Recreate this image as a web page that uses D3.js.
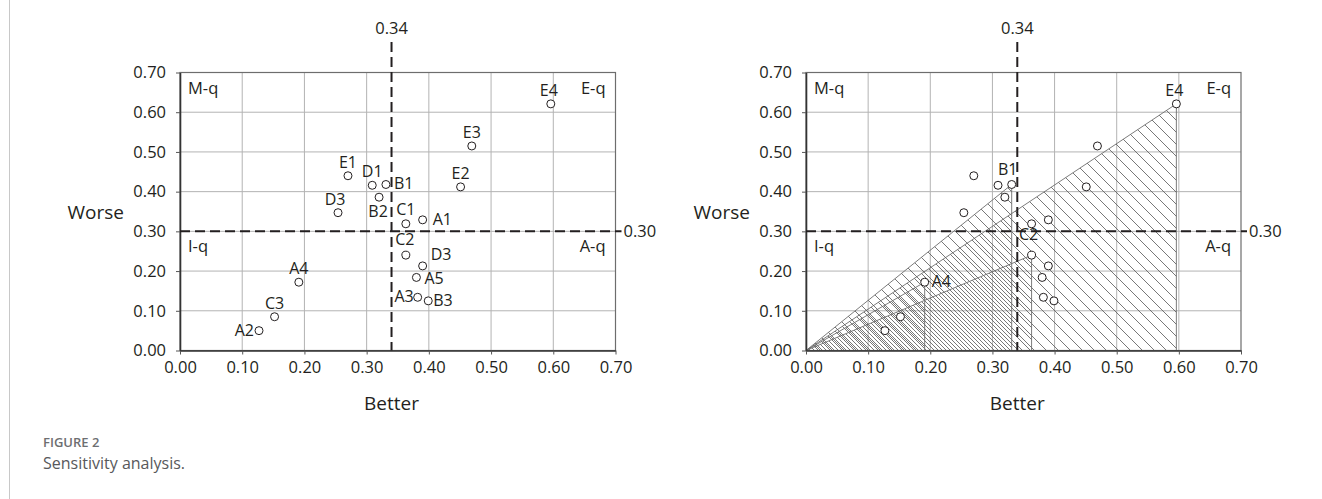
<!DOCTYPE html>
<html>
<head>
<meta charset="utf-8">
<script src="https://cdn.jsdelivr.net/npm/d3@7"></script>
<style>
  body { margin: 0; background: #fff; }
  svg text { font-family: "Open Sans", sans-serif; fill: #231f20; }
</style>
</head>
<body>
<svg id="chart" width="1322" height="499"></svg>
<script>
// data
const pointNames = ["E4", "E3", "E2", "E1", "D1", "B1", "B2", "D3", "C1", "A1", "C2", "D3", "A5", "A4", "A3", "B3", "C3", "A2"];
const betterValues = [0.596, 0.469, 0.451, 0.270, 0.309, 0.331, 0.320, 0.254, 0.363, 0.390, 0.363, 0.390, 0.380, 0.191, 0.382, 0.399, 0.152, 0.127];
const worseValues  = [0.621, 0.515, 0.412, 0.440, 0.416, 0.418, 0.386, 0.347, 0.319, 0.329, 0.240, 0.213, 0.184, 0.172, 0.134, 0.125, 0.085, 0.050];
// label placement per point: [dx, dy, anchor]
const labelPos = [
  [-2, -8, "middle"], [0, -8, "middle"], [0, -8, "middle"], [0, -8, "middle"], [0, -8, "middle"],
  [8, 5, "start"], [-1, 20, "middle"], [-3, -8, "middle"], [0, -9, "middle"], [10, 5, "start"],
  [-1, -10, "middle"], [8, -6, "start"], [8, 7, "start"], [0, -8, "middle"], [-4, 5, "end"],
  [5, 5, "start"], [0, -8, "middle"], [-5, 5, "end"]
];
const tickValues = [0, 0.1, 0.2, 0.3, 0.4, 0.5, 0.6, 0.7];
const betterCut = 0.34;
const worseCut = 0.30;
const quadrants = ["M-q", "E-q", "I-q", "A-q"];
// sensitivity triangles drawn on the right panel
const triangleNames = ["E4", "B1", "C2", "A4"];
const triangleLabels = { E4: [-2, -8, "middle"], B1: [-4, -9, "middle"], C2: [-3, -15, "middle"], A4: [7, 5, "start"] };

const svg = d3.select("#chart");

// figure frame line and caption
svg.append("line").attr("x1", 9.5).attr("x2", 9.5).attr("y1", 0).attr("y2", 499)
  .attr("stroke", "#c8c8c8").attr("stroke-width", 1);
svg.append("text").attr("x", 43).attr("y", 447).style("font-size", "13px")
  .style("font-weight", "600").style("fill", "#6d6e71").text("FIGURE 2");
svg.append("text").attr("x", 43).attr("y", 469).style("font-size", "16px")
  .style("fill", "#58595b").text("Sensitivity analysis.");

const defs = svg.append("defs");
const hatchOffsets = [0, 4, 8, 2];
hatchOffsets.forEach((off, i) => {
  const p = defs.append("pattern")
    .attr("id", "hatch" + i)
    .attr("patternUnits", "userSpaceOnUse")
    .attr("width", 12).attr("height", 12)
    .attr("patternTransform", `translate(${off},0)`);
  p.append("path")
    .attr("d", "M0,0 L12,12 M-3,9 L3,15 M9,-3 L15,3")
    .attr("stroke", "#555").attr("stroke-width", 0.8);
});

const yTop = 72.5, yBottom = 350.5;

function drawPanel(left, right, withTriangles) {
  const x = d3.scaleLinear().domain([0, 0.7]).range([left, right]);
  const y = d3.scaleLinear().domain([0, 0.7]).range([yBottom, yTop]);
  const g = svg.append("g");

  // grid
  g.append("g").selectAll("line").data(tickValues.slice(1, -1)).join("line")
    .attr("x1", d => x(d)).attr("x2", d => x(d)).attr("y1", yTop).attr("y2", yBottom)
    .attr("stroke", "#b3b3b3").attr("stroke-width", 1);
  g.append("g").selectAll("line").data(tickValues.slice(1, -1)).join("line")
    .attr("y1", d => y(d)).attr("y2", d => y(d)).attr("x1", left).attr("x2", right)
    .attr("stroke", "#b3b3b3").attr("stroke-width", 1);

  if (withTriangles) {
    triangleNames.forEach((name, i) => {
      const k = pointNames.indexOf(name);
      const bx = betterValues[k], wy = worseValues[k];
      const pts = [[0, 0], [bx, wy], [bx, 0]].map(p => [x(p[0]), y(p[1])]);
      g.append("path")
        .attr("d", d3.line()(pts) + "Z")
        .attr("fill", `url(#hatch${i})`)
        .attr("stroke", "#6d6d6d").attr("stroke-width", 0.9);
    });
  }

  // frame
  g.append("rect").attr("x", left).attr("y", yTop).attr("width", right - left).attr("height", yBottom - yTop)
    .attr("fill", "none").attr("stroke", "#6d6d6d").attr("stroke-width", 1.2);

  const xAxis = g.append("g").attr("transform", `translate(0,${yBottom})`)
    .call(d3.axisBottom(x).tickValues(tickValues).tickFormat(d3.format(".2f")).tickSize(4).tickSizeOuter(0).tickPadding(7));
  const yAxis = g.append("g").attr("transform", `translate(${left},0)`)
    .call(d3.axisLeft(y).tickValues(tickValues).tickFormat(d3.format(".2f")).tickSize(4).tickSizeOuter(0).tickPadding(10));
  [xAxis, yAxis].forEach(a => {
    a.select(".domain").attr("stroke", "#333").attr("stroke-width", 1.6);
    a.selectAll(".tick line").attr("stroke", "#555");
    a.selectAll(".tick text").style("font-size", "16.5px").attr("fill", "#231f20").style("font-family", "Open Sans, sans-serif");
  });

  // axis titles
  g.append("text").attr("x", x(betterCut)).attr("y", 410).attr("text-anchor", "middle")
    .style("font-size", "19px").text("Better");
  g.append("text").attr("x", left - 56).attr("y", y(0.34) + 4).attr("text-anchor", "end")
    .style("font-size", "19px").text("Worse");

  // threshold lines
  g.append("line").attr("x1", x(betterCut)).attr("x2", x(betterCut)).attr("y1", 42).attr("y2", yBottom)
    .attr("stroke", "#231f20").attr("stroke-width", 2).attr("stroke-dasharray", "10,5");
  g.append("line").attr("x1", left).attr("x2", right + 6).attr("y1", y(worseCut)).attr("y2", y(worseCut))
    .attr("stroke", "#231f20").attr("stroke-width", 2).attr("stroke-dasharray", "10,5");
  g.append("text").attr("x", x(betterCut)).attr("y", 34).attr("text-anchor", "middle")
    .style("font-size", "16.5px").text(betterCut.toFixed(2));
  g.append("text").attr("x", right + 8).attr("y", y(worseCut) + 6)
    .style("font-size", "16.5px").text(worseCut.toFixed(2));

  // quadrant labels
  g.append("text").attr("x", left + 8).attr("y", y(0.7) + 21).style("font-size", "16.5px").text(quadrants[0]);
  g.append("text").attr("x", right - 10).attr("y", y(0.7) + 21).attr("text-anchor", "end").style("font-size", "16.5px").text(quadrants[1]);
  g.append("text").attr("x", left + 8).attr("y", y(worseCut) + 21).style("font-size", "16.5px").text(quadrants[2]);
  g.append("text").attr("x", right - 10).attr("y", y(worseCut) + 21).attr("text-anchor", "end").style("font-size", "16.5px").text(quadrants[3]);

  // points
  const data = pointNames.map((n, i) => ({ name: n, b: betterValues[i], w: worseValues[i], lp: labelPos[i] }));
  g.append("g").selectAll("circle").data(data).join("circle")
    .attr("cx", d => x(d.b)).attr("cy", d => y(d.w)).attr("r", 4)
    .attr("fill", "#fff").attr("stroke", "#231f20").attr("stroke-width", 1);

  const labelled = withTriangles
    ? data.filter(d => triangleNames.includes(d.name)).map(d => Object.assign({}, d, { lp: triangleLabels[d.name] }))
    : data;
  g.append("g").selectAll("text").data(labelled).join("text")
    .attr("x", d => x(d.b) + d.lp[0]).attr("y", d => y(d.w) + d.lp[1])
    .attr("text-anchor", d => d.lp[2])
    .style("font-size", "16px").text(d => d.name);
}

drawPanel(180, 615.5, false);
drawPanel(806, 1241, true);
</script>
</body>
</html>
